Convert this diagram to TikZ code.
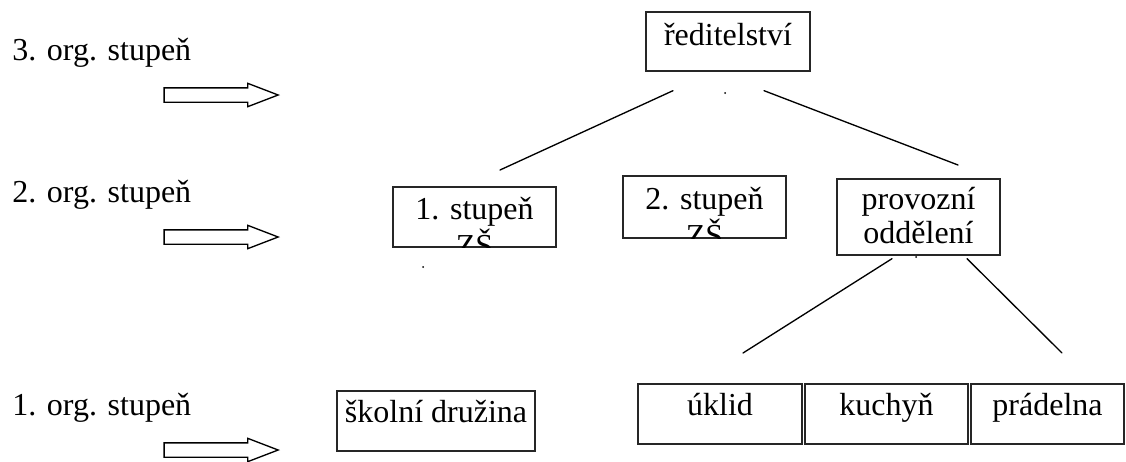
\documentclass[tikz,border=0pt]{standalone}
\usepackage{fontspec}
\setmainfont{Liberation Serif}
\usetikzlibrary{shapes.arrows}

\begin{document}
\begin{tikzpicture}[x=0.75pt, y=-0.75pt, line cap=round,
  orgbox/.style 2 args={draw=black!85, line width=1pt, inner sep=0pt,
    minimum width=#1*0.75pt, minimum height=#2*0.75pt},
  orgtext/.style={font=\fontsize{24}{28}\selectfont, anchor=base, inner sep=0pt},
  lvltext/.style={font=\fontsize{24}{28}\selectfont, anchor=base west, inner sep=0pt},
  lvlarrow/.style={single arrow, draw, fill=white, line width=1pt,
    inner xsep=0pt, inner ysep=6.5*0.75pt, minimum height=114*0.75pt,
    single arrow head extend=4.5*0.75pt, single arrow tip angle=42}]
  \useasboundingbox (0,0) rectangle (1126,461);

  % ---------------- levels (left) ----------------
  \foreach \n/\y in {3/60,2/202,1/415}{
    \node[lvltext] (lvl\n) at (12,\y) {\n. org. stupeň};
    \node[lvlarrow, anchor=tip] (arr\n) at (280,\y+35) {};
  }

  % ---------------- top ----------------
  \node[orgbox={164}{59}] (red) at (728,41.5) {};
  \node[orgtext] (red-t) at (728,45) {ředitelství};

  % ---------------- middle row ----------------
  \node[orgbox={163}{60}] (st1) at (474.5,217) {};
  \node[orgbox={163}{62}] (st2) at (704.5,207) {};
  \node[orgbox={163}{76}] (prov) at (918.5,217) {};
  \begin{scope}
    \clip (st1.south west) rectangle (st1.north east);
    \node[orgtext] (st1-a) at (474.5,219) {1. stupeň};
    \node[orgtext] (st1-b) at (474.5,256) {ZŠ};
  \end{scope}
  \begin{scope}
    \clip (st2.south west) rectangle (st2.north east);
    \node[orgtext] (st2-a) at (704.5,209) {2. stupeň};
    \node[orgtext] (st2-b) at (704.5,246) {ZŠ};
  \end{scope}
  \node[orgtext] (prov-a) at (918.5,209) {provozní};
  \node[orgtext] (prov-b) at (918.5,243) {oddělení};

  % ---------------- bottom row ----------------
  \node[orgbox={198}{60}] (druz) at (436,421) {};
  \node[orgtext] (druz-t) at (436,422) {školní družina};
  \foreach \name/\cx/\w/\txt in {uklid/720/164/úklid,kuch/886.5/163/kuchyň,prad/1047.5/153/prádelna}{
    \node[orgbox={\w}{60}] (\name) at (\cx,414) {};
    \node[orgtext] (\name-t) at (\cx,415) {\txt};
  }

  % ---------------- lines ----------------
  \coordinate (red-a) at ([shift={(-55,19)}]red.south);
  \coordinate (red-b) at ([shift={(36,19)}]red.south);
  \coordinate (st1-top) at (500,170);
  \coordinate (prov-top) at (958,165);
  \coordinate (prov-a) at ([shift={(-26.5,3)}]prov.south);
  \coordinate (prov-b) at ([shift={(48.5,3)}]prov.south);
  \coordinate (uklid-top) at (743,353);
  \coordinate (prad-top) at (1062,353);
  \draw[line width=1pt] (red-a) -- (st1-top);
  \draw[line width=1pt] (red-b) -- (prov-top);
  \draw[line width=1pt] (prov-a) -- (uklid-top);
  \draw[line width=1pt] (prov-b) -- (prad-top);

  % stray dots
  \foreach \x/\y in {725/93,423/267,916/257}
    \fill (\x,\y) circle (1);
\end{tikzpicture}
\end{document}
